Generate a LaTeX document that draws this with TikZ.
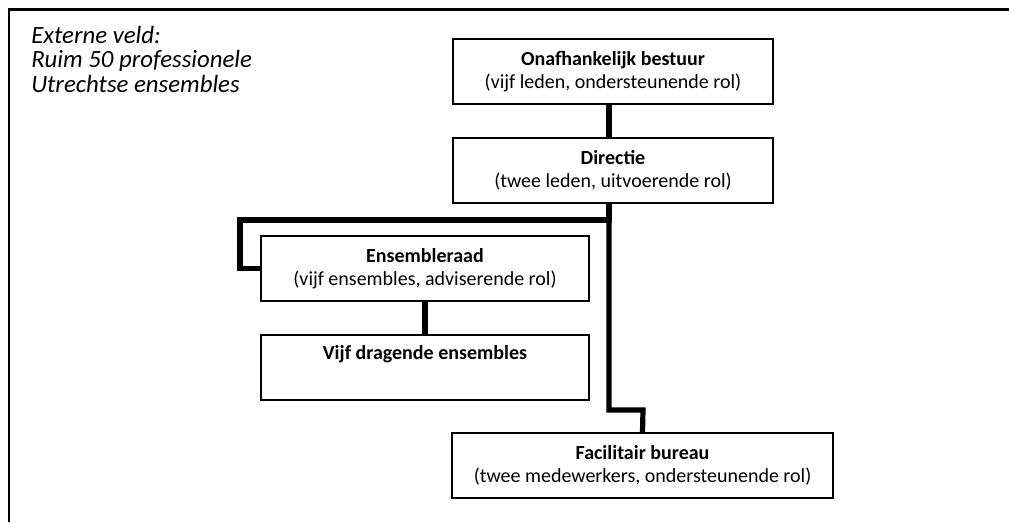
\documentclass[tikz,border=0pt]{standalone}
\usepackage{fontspec}
\setmainfont{Carlito}
\begin{document}
\begin{tikzpicture}[x=0.75pt,y=-0.75pt,
  orgbox/.style={draw=black, line width=1.2pt, fill=white, align=center,
    inner sep=0pt, font=\fontsize{15}{17.25}\selectfont},
  link/.style={line width=3.9pt, line join=miter, line cap=butt},
  frame/.style={line width=1.6pt}]
  \useasboundingbox (0,0) rectangle (1009,522);
  % outer field frame (open to the right and bottom)
  \draw[frame] (9,522) -- (9,9.5) -- (1009,9.5);
  \node[anchor=north west, align=left, inner sep=0pt,
        font=\fontsize{18.6}{18.3}\selectfont\itshape] (veld) at (31,26)
    {Externe veld:\\Ruim 50 professionele\\Utrechtse ensembles};
  % organisation boxes
  \node[orgbox, minimum width=240pt, minimum height=48.75pt] (bestuur) at (613,71.5)
    {\textbf{Onafhankelijk bestuur}\\(vijf leden, ondersteunende rol)};
  \node[orgbox, minimum width=240pt, minimum height=48.75pt] (directie) at (613,170.5)
    {\textbf{Directie}\\(twee leden, uitvoerende rol)};
  \node[orgbox, minimum width=246pt, minimum height=48.75pt] (raad) at (425,268.5)
    {\textbf{Ensembleraad}\\(vijf ensembles, adviserende rol)};
  \node[orgbox, minimum width=246pt, minimum height=48.75pt] (vijf) at (425,367.5)
    {\textbf{Vijf dragende ensembles}\\\strut};
  \node[orgbox, minimum width=285.75pt, minimum height=48.75pt] (bureau) at (642.5,465.5)
    {\textbf{Facilitair bureau}\\(twee medewerkers, ondersteunende rol)};
  % connector routing points
  \coordinate (sp) at (609,0);
  \coordinate (br) at (240,220);
  \coordinate (kn) at (643,410);
  % connectors
  \draw[link] (bestuur.south -| sp) -- (directie.north -| sp);
  \draw[link] (directie.south -| sp) -- (br -| sp) -- (br) |- (raad.west);
  \draw[link] (directie.south -| sp) -- (kn -| sp) -- (kn) -- (bureau.north);
  \draw[link] (raad.south) -- (vijf.north);
\end{tikzpicture}
\end{document}
